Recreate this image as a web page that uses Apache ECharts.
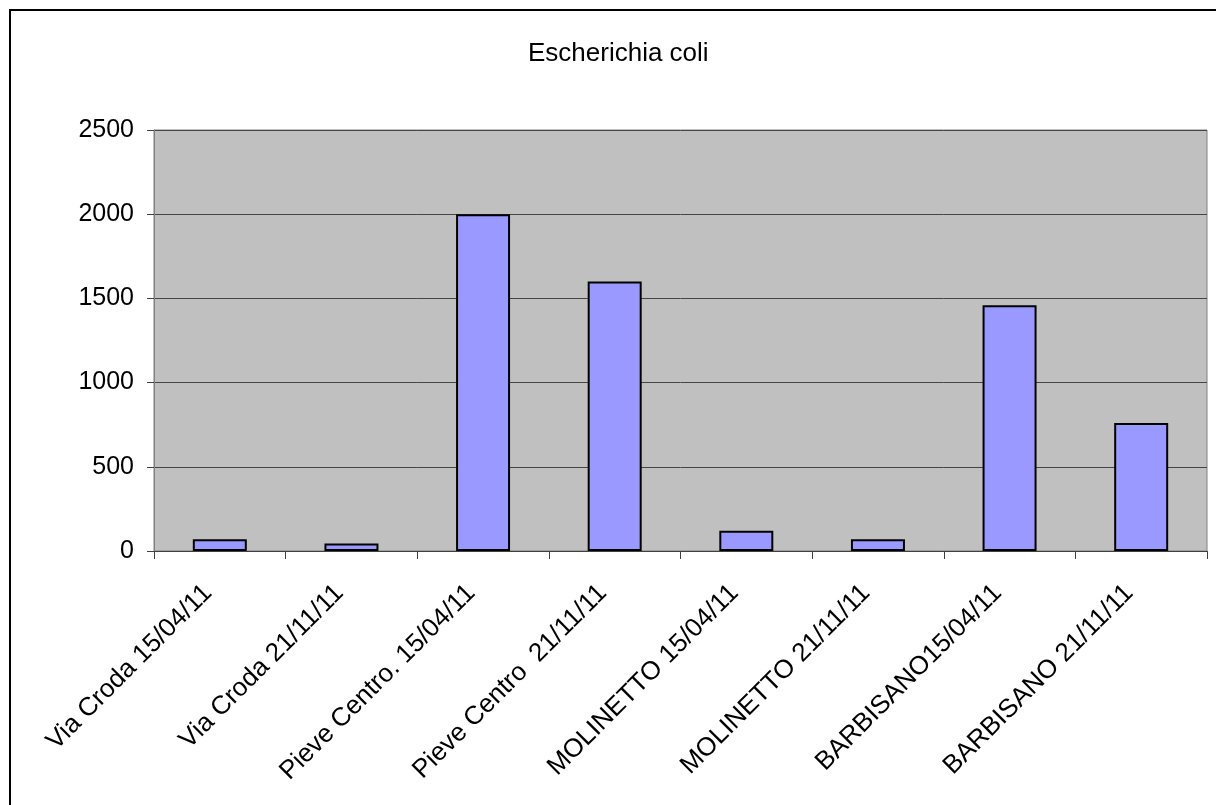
<!DOCTYPE html>
<html>
<head>
<meta charset="utf-8">
<script src="https://cdn.jsdelivr.net/npm/echarts@6/dist/echarts.min.js"></script>
<style>
  html, body { margin: 0; padding: 0; background: #ffffff; }
  #chart { width: 1216px; height: 805px; }
</style>
</head>
<body>
<div id="chart"></div>
<script>
// Sampling sites and dates
const categories = [
  'Via Croda 15/04/11',
  'Via Croda 21/11/11',
  'Pieve Centro. 15/04/11',
  'Pieve Centro  21/11/11',
  'MOLINETTO 15/04/11',
  'MOLINETTO 21/11/11',
  'BARBISANO15/04/11',
  'BARBISANO 21/11/11'
];
// Escherichia coli counts per sample
const ecoliValues = [70, 45, 2000, 1600, 120, 70, 1460, 760];
const yTicks = [0, 500, 1000, 1500, 2000, 2500];

const FONT = '"Liberation Sans", Arial, sans-serif';

const chart = echarts.init(document.getElementById('chart'), null, { renderer: 'canvas' });
chart.setOption({
  animation: false,
  backgroundColor: '#ffffff',
  title: {
    text: 'Escherichia coli',
    left: 523,
    top: 36,
    textStyle: { fontFamily: FONT, fontSize: 26, fontWeight: 'normal', color: '#000' }
  },
  graphic: [{
    type: 'rect',
    shape: { x: 10, y: 10, width: 1230, height: 830 },
    style: { fill: 'none', stroke: '#000', lineWidth: 2 },
    silent: true
  }],
  grid: {
    left: 154, top: 130, right: 9, bottom: 254,
    show: true, backgroundColor: '#c0c0c0', borderColor: '#808080', borderWidth: 1
  },
  xAxis: {
    type: 'category',
    data: categories,
    axisLine: { lineStyle: { color: '#404040', width: 1 } },
    axisTick: { show: true, length: 8, lineStyle: { color: '#404040' } },
    axisLabel: {
      rotate: 45, interval: 0, margin: 26, padding: [0, 17, 0, 0],
      fontFamily: FONT, fontSize: 26, color: '#000'
    }
  },
  yAxis: {
    type: 'value',
    min: yTicks[0], max: yTicks[yTicks.length - 1], interval: 500,
    axisLine: { show: true, lineStyle: { color: '#808080', width: 1 } },
    axisTick: { show: true, length: 7, lineStyle: { color: '#404040' } },
    axisLabel: {
      margin: 20, fontFamily: FONT, fontSize: 25, color: '#000',
      formatter: (v) => String(v)
    },
    splitLine: { lineStyle: { color: '#454545', width: 1 } }
  },
  series: [{
    type: 'bar',
    data: ecoliValues,
    barWidth: 54,
    itemStyle: { color: '#9999ff', borderColor: '#000', borderWidth: 2 }
  }]
});
</script>
</body>
</html>
